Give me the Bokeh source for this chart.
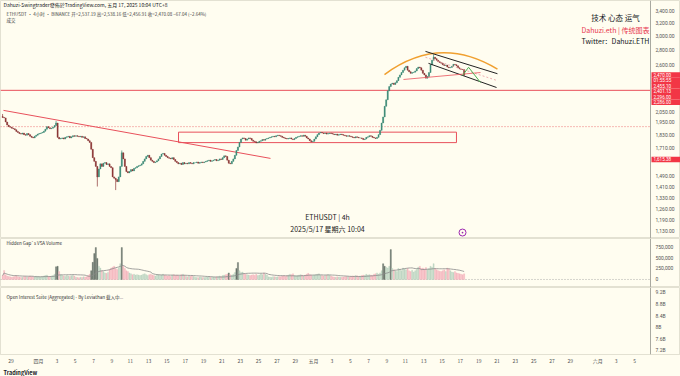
import pandas as pd
from bokeh.plotting import figure
from bokeh.layouts import column
from bokeh.models import (Range1d, FixedTicker, Label, Span, Title, ColumnDataSource)
from bokeh.core.properties import value
from bokeh.embed import file_html
from bokeh.resources import INLINE

BG = "#fffdf0"
FONT = "Noto Sans CJK SC"
UP = "#3c8a76"
DOWN = "#8b3535"
RED = "#e8505b"

# ---------------- data (ETHUSDT 4h) ----------------
START = "2025-03-28 00:00"
FIRST_OPEN = 2005.0
closes = [
    1995, 1990, 1950, 1920, 1905, 1900,   # Mar 28
    1890, 1885, 1875, 1860, 1850, 1840,   # Mar 29
    1835, 1845, 1830, 1825, 1840, 1830,   # Mar 30
    1815, 1805, 1800, 1815, 1825, 1835,   # Mar 31
    1840, 1845, 1850, 1862, 1880, 1905,   # Apr 1
    1895, 1885, 1890, 1900, 1915, 1940,   # Apr 2
    1805, 1790, 1795, 1800, 1790, 1805,   # Apr 3
    1810, 1815, 1800, 1810, 1820, 1815,   # Apr 4
    1820, 1815, 1810, 1815, 1805, 1810,   # Apr 5
    1795, 1790, 1775, 1760, 1700, 1630,   # Apr 6
    1600, 1560, 1480, 1540, 1580, 1560,   # Apr 7
    1585, 1590, 1575, 1580, 1560, 1550,   # Apr 8
    1480, 1470, 1460, 1445, 1480, 1560,   # Apr 9
    1670, 1620, 1560, 1520, 1510, 1520,   # Apr 10
    1535, 1525, 1545, 1550, 1560, 1565,   # Apr 11
    1570, 1580, 1600, 1620, 1640, 1650,   # Apr 12
    1630, 1610, 1600, 1590, 1595, 1605,   # Apr 13
    1620, 1640, 1660, 1665, 1650, 1640,   # Apr 14
    1630, 1625, 1620, 1630, 1615, 1600,   # Apr 15
    1590, 1580, 1585, 1575, 1590, 1580,   # Apr 16
    1585, 1580, 1590, 1585, 1580, 1590,   # Apr 17
    1590, 1595, 1585, 1590, 1595, 1590,   # Apr 18
    1595, 1600, 1605, 1610, 1600, 1605,   # Apr 19
    1610, 1615, 1605, 1610, 1620, 1615,   # Apr 20
    1630, 1645, 1640, 1610, 1585, 1580,   # Apr 21
    1600, 1620, 1650, 1690, 1720, 1760,   # Apr 22
    1790, 1800, 1795, 1780, 1790, 1800,   # Apr 23
    1795, 1780, 1770, 1765, 1755, 1760,   # Apr 24
    1770, 1775, 1785, 1780, 1790, 1795,   # Apr 25
    1800, 1805, 1810, 1815, 1810, 1820,   # Apr 26
    1825, 1820, 1815, 1805, 1800, 1795,   # Apr 27
    1790, 1795, 1800, 1790, 1785, 1795,   # Apr 28
    1805, 1810, 1815, 1820, 1815, 1825,   # Apr 29
    1815, 1800, 1790, 1775, 1765, 1770,   # Apr 30
    1790, 1810, 1830, 1845, 1850, 1845,   # May 1
    1840, 1845, 1835, 1840, 1845, 1840,   # May 2
    1835, 1830, 1835, 1825, 1830, 1835,   # May 3
    1830, 1825, 1820, 1815, 1820, 1815,   # May 4
    1810, 1805, 1800, 1810, 1805, 1800,   # May 5
    1800, 1795, 1785, 1790, 1805, 1810,   # May 6
    1820, 1815, 1805, 1800, 1795, 1805,   # May 7
    1830, 1870, 1940, 2000, 2110, 2180,   # May 8
    2280, 2330, 2360, 2370, 2355, 2375,   # May 9
    2400, 2440, 2470, 2500, 2530, 2560,   # May 10
    2580, 2530, 2510, 2490, 2500, 2505,   # May 11
    2520, 2550, 2570, 2560, 2530, 2490,   # May 12
    2470, 2430, 2450, 2500, 2600, 2660,   # May 13
    2700, 2680, 2660, 2640, 2630, 2620,   # May 14
    2600, 2590, 2595, 2570, 2560, 2565,   # May 15
    2580, 2605, 2600, 2585, 2560, 2545,   # May 16
    2540, 2537.19, 2470.08,               # May 17
]
volumes_k = [
    90, 205, 110, 80, 70, 60,
    50, 60, 70, 90, 60, 55,
    45, 50, 60, 70, 55, 60,
    80, 70, 65, 60, 75, 70,
    60, 55, 70, 80, 90, 100,
    70, 60, 80, 90, 120, 290,
    300, 180, 110, 90, 80, 70,
    90, 80, 70, 85, 95, 80,
    50, 45, 40, 50, 45, 60,
    55, 60, 90, 120, 200, 390,
    590, 727, 480, 300, 260, 200,
    180, 150, 140, 160, 220, 260,
    280, 300, 250, 230, 260, 360,
    727, 300, 250, 200, 180, 150,
    130, 110, 120, 100, 110, 100,
    90, 100, 120, 130, 110, 90,
    110, 120, 100, 90, 80, 100,
    110, 90, 100, 120, 100, 90,
    80, 90, 70, 100, 110, 90,
    100, 90, 80, 110, 120, 100,
    70, 60, 80, 75, 90, 70,
    50, 45, 40, 55, 50, 45,
    45, 50, 55, 60, 50, 45,
    55, 50, 60, 65, 80, 70,
    90, 100, 110, 120, 150, 110,
    100, 120, 160, 250, 386, 200,
    160, 170, 130, 120, 110, 100,
    90, 100, 110, 95, 120, 90,
    100, 130, 110, 150, 120, 100,
    60, 55, 50, 65, 60, 55,
    60, 70, 65, 80, 90, 70,
    90, 100, 120, 110, 130, 90,
    80, 90, 100, 110, 100, 80,
    100, 120, 140, 110, 100, 90,
    100, 110, 120, 130, 100, 90,
    80, 90, 100, 110, 95, 80,
    60, 55, 50, 60, 55, 50,
    50, 55, 60, 70, 65, 60,
    70, 80, 75, 90, 85, 70,
    80, 90, 100, 95, 120, 100,
    110, 100, 90, 120, 130, 150,
    120, 150, 200, 360, 300, 280,
    260, 300, 680, 250, 220, 200,
    180, 250, 230, 200, 260, 240,
    220, 250, 200, 180, 210, 170,
    200, 230, 280, 300, 250, 260,
    240, 270, 230, 250, 300, 280,
    360, 250, 220, 200, 190, 180,
    200, 220, 180, 260, 240, 200,
    170, 160, 180, 150, 140, 130,
    120, 110, 130,
]
wick_highs = {"2025-03-28 00:00": 2030, "2025-04-02 20:00": 1960, "2025-04-10 00:00": 1690,
              "2025-05-14 00:00": 2738, "2025-05-17 08:00": 2538.16}
wick_lows = {"2025-04-07 08:00": 1410, "2025-04-09 08:00": 1385, "2025-05-17 08:00": 2456.91}

# axis ticks (price scale, volume scale, open interest scale, time scale)
price_ticks = [1130, 1190, 1260, 1330, 1410, 1490, 1710, 1830, 1950, 2050, 2600, 2800, 3000, 3200, 3400]
vol_ticks = [0, 250000, 500000, 750000]
vol_tick_labels = ["0", "250,000", "500,000", "750,000"]
oi_ticks = [7.2, 7.6, 8.0, 8.4, 8.8, 9.2]
oi_tick_labels = ["7.2B", "7.6B", "8B", "8.4B", "8.8B", "9.2B"]
tick_days = [-3, 0, 2, 4, 6, 8, 10, 12, 14, 16, 18, 20, 22, 24, 26, 28,
             30, 32, 34, 36, 38, 40, 42, 44, 46, 48, 50, 52, 54, 56, 58, 61, 63, 65]
tick_labels = ["29", "四月", "3", "5", "7", "9", "11", "13", "15", "17", "19", "21", "23", "25", "27", "29",
               "五月", "3", "5", "7", "9", "11", "13", "15", "17", "19", "21", "23", "25", "27", "29",
               "六月", "3", "5"]

# drawings (x = days since Apr 1, y = price)
trend_x = [-3.82, 25.30]
trend_y = [2067, 1624]
zone = dict(left=15.27, right=45.58, bottom=1758, top=1853)
dotted_level = 1905
red_level = 2286
arc = dict(x0=37.73, y0=2475, cx=43.73, cy=3036, x1=50.05, y1=2542)
chan1_x, chan1_y = [42.2, 50.05], [2780, 2485]
chan2_x, chan2_y = [42.53, 49.95], [2618, 2319]
mid_x, mid_y = [42.2, 50.0], [2699, 2402]
neck_x, neck_y = [39.8, 48.2], [2414, 2500]
proj_x, proj_y = [46.24, 46.9, 48.2], [2463, 2567, 2378]
tag_texts = ["2,470.00", "01:55:55", "2,455.10", "2,401.13", "2,296.00", "2,286.00", "1,615.38"]
tag_prices = [2470, 2403, 2338, 2275, 2213, 2153, 1615.38]

# ---------------- derived ----------------
n = len(closes)
assert len(volumes_k) == n
times = pd.date_range(START, periods=n, freq="4h")
apr1 = pd.Timestamp("2025-04-01 00:00")
xs = [((t - apr1) / pd.Timedelta(days=1)) + 1 / 12 for t in times]
opens = [FIRST_OPEN] + closes[:-1]
keys = [t.strftime("%Y-%m-%d %H:%M") for t in times]
highs = [max(o, c, wick_highs.get(k, 0)) for o, c, k in zip(opens, closes, keys)]
lows = [min(o, c, wick_lows.get(k, 1e9)) for o, c, k in zip(opens, closes, keys)]
colors = [UP if c >= o else DOWN for o, c in zip(opens, closes)]
vols = [v * 1000 for v in volumes_k]
ma = pd.Series(vols).rolling(20, min_periods=1).mean().tolist()
vcolors = []
for o, c, v, m in zip(opens, closes, vols, ma):
    if v > 2.0 * m:
        vcolors.append("#56625a")
    else:
        vcolors.append("#b9d2bf" if c >= o else "#f5b1bc")

src = ColumnDataSource(dict(x=xs, o=opens, c=closes, h=highs, l=lows, col=colors,
                            v=vols, ma=ma, vcol=vcolors))

# x scale: plot area 0..650 px, price-scale strip 650..680 px
PLOT_W, FULL_W = 650, 680
X0, X1 = -4.144, 66.74
PX = (X1 - X0) / PLOT_W
xr = Range1d(X0, X0 + PX * FULL_W)
X_AXIS = X1                    # price scale line
X_LAB = X0 + PX * 655          # scale labels
X_TAG = X0 + PX * 665.5        # red tag centre
X_TAGTXT = X0 + PX * 653


def base(height, yr, log=False, xaxis=False):
    f = figure(frame_width=FULL_W, frame_height=height, x_range=xr, y_range=yr,
               y_axis_type="log" if log else "linear", y_axis_location=None,
               x_axis_location="below" if xaxis else None,
               output_backend="svg", toolbar_location=None)
    f.background_fill_color = BG
    f.border_fill_color = BG
    f.outline_line_color = "#e3e1d2"
    f.xgrid.visible = False
    f.ygrid.visible = False
    f.min_border_left = 0
    f.min_border_right = 0
    f.min_border_top = 0
    f.min_border_bottom = 0
    f.add_layout(Span(location=X_AXIS, dimension="height", line_color="#a9a9a0", line_width=1))
    return f


def scale_labels(f, ticks, labels):
    f.text(x=[X_LAB] * len(ticks), y=ticks, text=labels, text_font=value("Roboto"),
           text_font_size="5px", text_color="#555555", text_baseline="middle")


def lab(fig, x, y, text, size, color="#131722", align="left", bold=False):
    fig.add_layout(Label(x=x, y=y, x_units="screen", y_units="screen", text=text,
                         text_font=FONT, text_font_size=size, text_color=color,
                         text_align=align, text_baseline="middle",
                         text_font_style="bold" if bold else "normal"))


# ---------------- price panel ----------------
p = base(238, Range1d(1086, 3590), log=True)
scale_labels(p, price_ticks, [f"{v:,.2f}" for v in price_ticks])

p.line([X0, X1], [red_level, red_level], line_color=RED, line_width=1)
p.line([X0, X1], [dotted_level, dotted_level], line_color=RED, line_width=0.8, line_dash="1 2")
p.line(trend_x, trend_y, line_color=RED, line_width=1)
p.quad(left=[zone["left"]], right=[zone["right"]], bottom=[zone["bottom"]], top=[zone["top"]],
       fill_alpha=0, line_color=RED, line_width=1)

p.segment(x0="x", x1="x", y0="l", y1="h", color="col", line_width=0.7, source=src)
p.vbar(x="x", width=0.12, top="o", bottom="c", fill_color="col", line_color="col",
       line_width=0.4, source=src)

p.quadratic(x0=[arc["x0"]], y0=[arc["y0"]], x1=[arc["x1"]], y1=[arc["y1"]],
            cx=[arc["cx"]], cy=[arc["cy"]], line_color="#f0a030", line_width=1.5)
p.line(chan1_x, chan1_y, line_color="#222222", line_width=1)
p.line(chan2_x, chan2_y, line_color="#222222", line_width=1)
p.line(mid_x, mid_y, line_color="#e89aa0", line_width=0.8, line_dash="2 2")
p.line(neck_x, neck_y, line_color=RED, line_width=0.8)
p.line(proj_x, proj_y, line_color="#4caf50", line_width=1)
p.scatter([46.24], [1119], marker="circle_dot", size=7, line_color="#9c27b0",
          fill_color=None, line_width=1)

# red price tags on the scale
p.rect(x=[X_TAG] * len(tag_prices), y=tag_prices, width=29, height=5.5,
       width_units="screen", height_units="screen", fill_color="#f23645", line_color=None)
p.text(x=[X_TAGTXT] * len(tag_prices), y=tag_prices, text=tag_texts, text_font=value("Roboto"),
       text_font_size="4.6px", text_color="white", text_baseline="middle")

lab(p, 3, 234, "Dahuzi-Swingtrader發佈於TradingView.com, 五月 17, 2025 10:04 UTC+8", "5px")
lab(p, 6, 225, "ETHUSDT · 4小时 · BINANCE   开=2,537.19  高=2,538.16  低=2,456.91  收=2,470.08  −67.04 (−2.64%)",
    "4.5px", color="#444444")
lab(p, 6, 219, "成交", "4.5px", color="#444444")
lab(p, 615, 221, "技术 心态 运气", "7.5px", align="center")
lab(p, 615, 209, "Dahuzi.eth | 传统图表", "7px", color="#e8384f", align="center")
lab(p, 615, 198, "Twitter：Dahuzi.ETH", "7px", align="center")
lab(p, 327, 22, "ETHUSDT | 4h", "7px", color="#222222", align="center")
lab(p, 327, 10, "2025/5/17 星期六 10:04", "7px", color="#222222", align="center")

# ---------------- volume panel ----------------
pv = base(49, Range1d(-182000, 932000))
scale_labels(pv, vol_ticks, vol_tick_labels)
pv.line([X0, X1], [0, 0], line_color="#999999", line_width=0.8, line_dash="1 2")
pv.vbar(x="x", width=0.13, top="v", bottom=0, fill_color="vcol", line_color="vcol",
        fill_alpha=0.85, line_width=0.3, source=src)
pv.line("x", "ma", line_color="#8a8a8a", line_width=0.8, source=src)
lab(pv, 6, 45, "Hidden Gap`s VSA Volume", "4.5px", color="#333333")

# ---------------- open interest panel ----------------
po = base(67, Range1d(7.06, 9.37), xaxis=True)
scale_labels(po, oi_ticks, oi_tick_labels)
xa = po.xaxis[0]
xa.ticker = FixedTicker(ticks=tick_days)
xa.major_label_overrides = {d: s for d, s in zip(tick_days, tick_labels)}
xa.axis_line_color = "#e3e1d2"
xa.major_tick_line_color = None
xa.minor_tick_line_color = None
xa.major_tick_out = 0
xa.major_tick_in = 0
xa.minor_tick_out = 0
xa.minor_tick_in = 0
xa.major_label_text_font_size = "5px"
xa.major_label_text_color = "#555555"
xa.major_label_text_font = FONT
xa.major_label_standoff = 2
lab(po, 6, 58, "Open Interest Suite [Aggregated] - By Leviathan 载入中...", "4.5px", color="#333333")
po.add_layout(Title(text="TradingView", align="left", text_font_size="5.5px",
                    text_font=FONT, text_font_style="bold", text_color="#131722",
                    offset=3, standoff=0), "below")

layout = column(p, pv, po, spacing=0)
layout.styles = {"background-color": BG}

open("out.html", "w").write(file_html(layout, INLINE))
